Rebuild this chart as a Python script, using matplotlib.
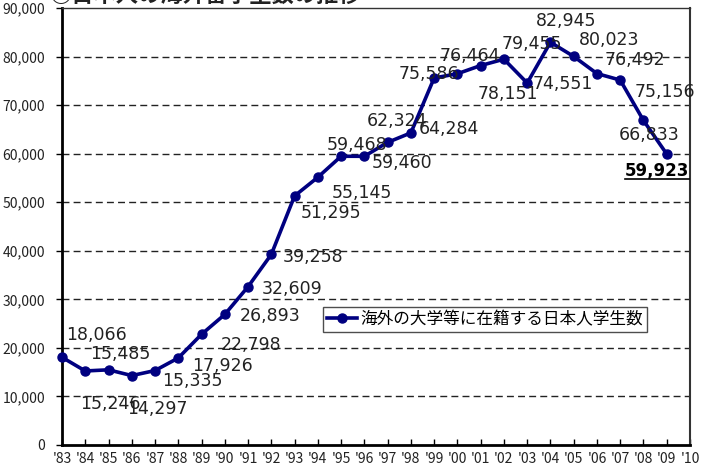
import matplotlib.pyplot as plt
from matplotlib.lines import Line2D

plt.rcParams['font.family'] = ['Noto Sans CJK JP', 'DejaVu Sans']

years = list(range(1983, 2011))
year_labels = ["'" + str(y)[2:] for y in years]
students = [18066, 15246, 15485, 14297, 15335, 17926, 22798, 26893, 32609,
            39258, 51295, 55145, 59468, 59460, 62324, 64284, 75586, 76464,
            78151, 79455, 74551, 82945, 80023, 76492, 75156, 66833, 59923]
series_name = "海外の大学等に在籍する日本人学生数"
title = "○日本人の海外留学生数の推移"

# label offsets in pixels (dx, dy), dy positive = up
label_offsets = [(35, 22), (25, -33), (12, 16), (26, -33), (37, -10), (44, -8),
                 (50, -11), (45, -2), (44, -2), (42, -3), (36, -17), (44, -16),
                 (16, 11), (38, -7), (9, 21), (38, 4), (-5, 4), (12, 18),
                 (27, -28), (28, 15), (36, -1), (16, 21), (35, 16), (38, 14),
                 (45, -12), (6, -15), (-10, -17)]

fig = plt.figure(figsize=(7.15, 4.68), dpi=100)
ax = fig.add_axes([62 / 715, 1 - 445 / 468, 628 / 715, 437 / 468])

x = list(range(len(students)))
ax.plot(x, students, color='#000080', lw=2.6, marker='o', ms=6.5,
        clip_on=False, zorder=3, label=series_name)

ax.set_xlim(0, len(years) - 1)
ax.set_ylim(0, 90000)
ax.set_xticks(range(len(years)))
ax.set_xticklabels(year_labels, fontsize=10, color='#222222')
ax.set_yticks(range(0, 90001, 10000))
ax.set_yticklabels([f"{v:,}" for v in range(0, 90001, 10000)], fontsize=10,
                   color='#222222')
ax.tick_params(axis='x', direction='in', length=4, width=1, pad=5)
ax.tick_params(axis='y', direction='out', length=4, width=1, pad=8)

for v in range(10000, 90000, 10000):
    ax.axhline(v, color='#222222', lw=1, ls=(0, (5, 3)), zorder=1)

for side in ['left', 'bottom']:
    ax.spines[side].set_linewidth(2)
    ax.spines[side].set_color('black')
ax.spines['top'].set_linewidth(1)
ax.spines['top'].set_color('#333333')
ax.spines['right'].set_linewidth(1.5)
ax.spines['right'].set_color('#333333')

texts = []
for xi, v, (dx, dy) in zip(x, students, label_offsets):
    last = xi == len(students) - 1
    t = ax.annotate(f"{v:,}", (xi, v), xytext=(dx, dy),
                    textcoords='offset pixels', ha='center', va='center',
                    family='DejaVu Sans',
                    fontsize=12 if last else 12.5,
                    fontweight='bold' if last else 'normal',
                    color='black' if last else '#222222', zorder=4)
    texts.append(t)

leg = ax.legend(loc='upper left', bbox_to_anchor=((323 - 62) / 628, (445 - 307) / 437),
                borderaxespad=0, frameon=True, fancybox=False, fontsize=12,
                handlelength=1.8, handletextpad=0.2, borderpad=0.25)
leg.get_frame().set_edgecolor('#222222')
leg.get_frame().set_linewidth(1)

fig.text(50 / 715, 1 + 5 / 468, title, fontsize=16, fontweight='bold',
         va='center', ha='left', color='#222222')

# underline the last value
fig.canvas.draw()
bb = texts[-1].get_window_extent()
W, H = fig.get_size_inches() * fig.dpi
fig.add_artist(Line2D([bb.x0 / W, bb.x1 / W], [(bb.y0 + 1) / H, (bb.y0 + 1) / H],
                      color='black', lw=1.2))

fig.savefig('out.png', dpi=100)
